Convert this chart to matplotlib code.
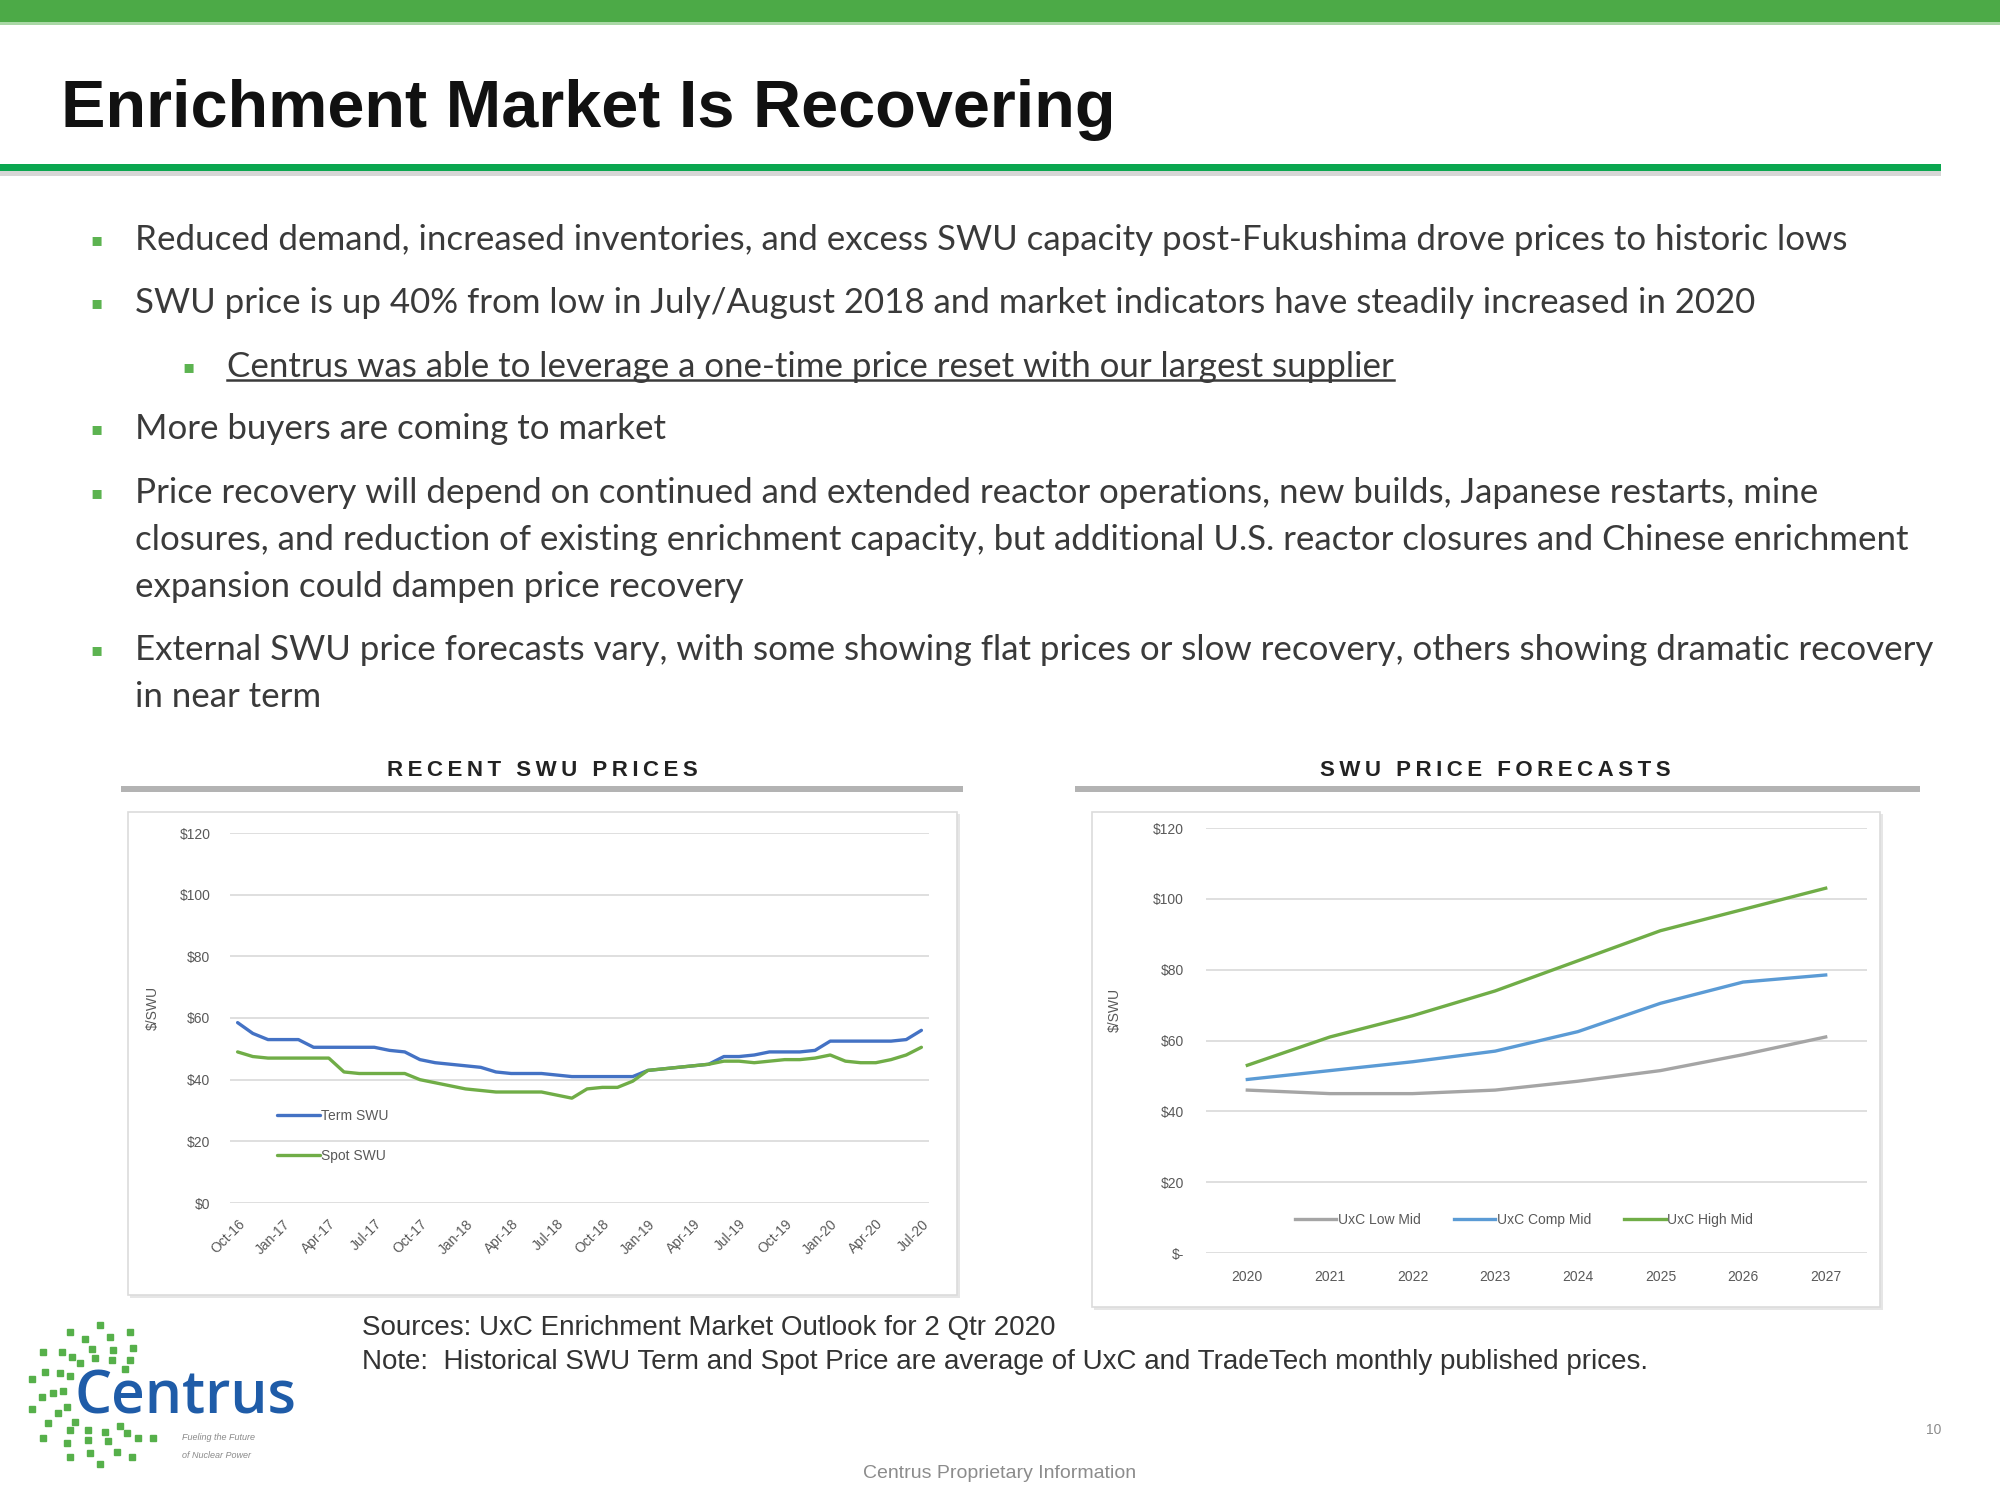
import matplotlib
matplotlib.use("Agg")
import matplotlib.pyplot as plt
from matplotlib.patches import Rectangle
from matplotlib.lines import Line2D

W, H = 2000, 1500

# recent SWU prices, monthly from Oct-16 to Jul-20 ($/SWU)
term_swu = [58.5, 55, 53, 53, 53, 50.5, 50.5, 50.5, 50.5, 50.5, 49.5, 49,
            46.5, 45.5, 45, 44.5, 44, 42.5, 42, 42, 42, 41.5, 41, 41, 41, 41, 41,
            43, 43.5, 44, 44.5, 45, 47.5, 47.5, 48, 49, 49, 49, 49.5,
            52.5, 52.5, 52.5, 52.5, 52.5, 53, 56]
spot_swu = [49, 47.5, 47, 47, 47, 47, 47, 42.5, 42, 42, 42, 42,
            40, 39, 38, 37, 36.5, 36, 36, 36, 36, 35, 34, 37, 37.5, 37.5, 39.5,
            43, 43.5, 44, 44.5, 45, 46, 46, 45.5, 46, 46.5, 46.5, 47,
            48, 46, 45.5, 45.5, 46.5, 48, 50.5]
recent_ticks = ['Oct-16', 'Jan-17', 'Apr-17', 'Jul-17', 'Oct-17', 'Jan-18', 'Apr-18',
                'Jul-18', 'Oct-18', 'Jan-19', 'Apr-19', 'Jul-19', 'Oct-19', 'Jan-20',
                'Apr-20', 'Jul-20']

# SWU price forecasts ($/SWU)
years = ['2020', '2021', '2022', '2023', '2024', '2025', '2026', '2027']
uxc_low = [46, 45, 45, 46, 48.5, 51.5, 56, 61]
uxc_comp = [49, 51.5, 54, 57, 62.5, 70.5, 76.5, 78.5]
uxc_high = [53, 61, 67, 74, 82.5, 91, 97, 103]

bullets = [
    (0, ["Reduced demand, increased inventories, and excess SWU capacity post-Fukushima drove prices to historic lows"]),
    (0, ["SWU price is up 40% from low in July/August 2018 and market indicators have steadily increased in 2020"]),
    (1, ["Centrus was able to leverage a one-time price reset with our largest supplier"]),
    (0, ["More buyers are coming to market"]),
    (0, ["Price recovery will depend on continued and extended reactor operations, new builds, Japanese restarts, mine",
         "closures, and reduction of existing enrichment capacity, but additional U.S. reactor closures and Chinese enrichment",
         "expansion could dampen price recovery"]),
    (0, ["External SWU price forecasts vary, with some showing flat prices or slow recovery, others showing dramatic recovery",
         "in near term"]),
]
bullet_y = [240, 303, 367, 429, 493, 650]

fig = plt.figure(figsize=(20, 15), dpi=100)
fig.patch.set_facecolor('white')
renderer = fig.canvas.get_renderer()


def fx(x):
    return x / W


def fy(y):
    return 1 - y / H


def rect(x0, y0, x1, y1, fc, ec='none', lw=0, z=0.5):
    r = Rectangle((fx(x0), fy(y1)), (x1 - x0) / W, (y1 - y0) / H, transform=fig.transFigure,
                  facecolor=fc, edgecolor=ec, linewidth=lw, zorder=z)
    fig.add_artist(r)
    return r


def fit(t, width):
    # scale the font so the text is width px wide
    w = t.get_window_extent(renderer).width
    t.set_fontsize(t.get_fontsize() * width / w)


# header bars
rect(0, 0, 2000, 22, '#4caa47')
rect(0, 22, 2000, 25, '#a9d8a5')
rect(0, 164, 1941, 171, '#0aa64f')
rect(0, 171, 1941, 176, '#d6d6d6')

title = fig.text(fx(61), fy(110), 'Enrichment Market Is Recovering', fontsize=44, fontweight='bold',
                 family='Liberation Sans', color='#111111', va='center', ha='left')
fit(title, 1056)

# bullets
txt_color = '#3a3a3a'
first = None
for (lvl, lines), y in zip(bullets, bullet_y):
    bx = 96 if lvl == 0 else 189
    tx = 135 if lvl == 0 else 227
    fig.text(fx(bx), fy(y), '\u25aa', fontsize=13, family='DejaVu Sans', color='#5cb350',
             va='center', ha='center')
    for k, line in enumerate(lines):
        t = fig.text(fx(tx), fy(y + k * 47), line, fontsize=24, family=['Lato', 'DejaVu Sans'],
                     color=txt_color, va='center', ha='left')
        if first is None:
            first = t
            fit(t, 1711)
        else:
            t.set_fontsize(first.get_fontsize())
        if lvl == 1:
            bb = t.get_window_extent(renderer)
            fig.add_artist(Line2D([bb.x0 / W, bb.x1 / W], [fy(380), fy(380)], transform=fig.transFigure,
                                  color=txt_color, lw=1.8))

# section headers
for label, cx, x0, x1 in [('RECENT SWU PRICES', 542, 121, 963), ('SWU PRICE FORECASTS', 1495, 1075, 1920)]:
    h = fig.text(fx(cx), fy(771), '\u2009'.join(label), fontsize=16, fontweight='bold',
                 family=['Liberation Sans', 'DejaVu Sans'], color='#222222', ha='center', va='center')
    rect(x0, 786, x1, 792, '#b3b3b3')

# chart boxes
for x0, y0, x1, y1 in [(128, 812, 957, 1295), (1092, 812, 1880, 1307)]:
    rect(x0 + 2, y0 + 2, x1 + 3, y1 + 3, '#e6e6e6', z=0.3)
    rect(x0, y0, x1, y1, 'white', ec='#dcdcdc', lw=1.2, z=0.4)

chart_font = 'Liberation Sans'
tick_color = '#595959'
grid_color = '#d9d9d9'


def style(ax):
    for s in ax.spines.values():
        s.set_visible(False)
    ax.set_ylim(0, 120)
    ax.set_yticks(range(0, 121, 20))
    ax.grid(axis='y', color=grid_color, lw=1.2)
    ax.set_axisbelow(True)
    ax.tick_params(length=0, colors=tick_color, labelsize=10)
    for lab in ax.get_xticklabels() + ax.get_yticklabels():
        lab.set_family(chart_font)
    ax.patch.set_visible(False)
    ax.set_zorder(2)


# left chart: recent prices
ax1 = fig.add_axes([fx(230), fy(1203), 699 / W, 370 / H])
xs = list(range(len(term_swu)))
ax1.plot(xs, term_swu, color='#4472c4', lw=2.4, label='Term SWU', solid_capstyle='round')
ax1.plot(xs, spot_swu, color='#70ad47', lw=2.4, label='Spot SWU', solid_capstyle='round')
ax1.set_xlim(-0.5, len(term_swu) - 0.5)
ax1.set_xticks(xs[::3])
ax1.set_xticklabels(recent_ticks, rotation=45, ha='right', rotation_mode='anchor')
ax1.set_yticklabels(['$%d' % v for v in range(0, 121, 20)])
style(ax1)
ax1.tick_params(axis='y', pad=14)
ax1.tick_params(axis='x', pad=10)
leg1 = ax1.legend(loc='upper left', bbox_to_anchor=(0.067, 0.255), frameon=False,
                  handlelength=3.1, handletextpad=0.1, labelspacing=1.9, borderpad=0, borderaxespad=0,
                  prop={'family': chart_font, 'size': 10})
for t in leg1.get_texts():
    t.set_color(tick_color)
fig.text(fx(153), fy(1008), '$/SWU', rotation=90, fontsize=10, family=chart_font, color=tick_color,
         ha='center', va='center')

# right chart: forecasts
ax2 = fig.add_axes([fx(1206), fy(1253), 661 / W, 425 / H])
xr = list(range(len(years)))
ax2.plot(xr, uxc_low, color='#a5a5a5', lw=2.4, label='UxC Low Mid')
ax2.plot(xr, uxc_comp, color='#5b9bd5', lw=2.4, label='UxC Comp Mid')
ax2.plot(xr, uxc_high, color='#70ad47', lw=2.4, label='UxC High Mid')
ax2.set_xlim(-0.5, len(years) - 0.5)
ax2.set_xticks(xr)
ax2.set_xticklabels(years)
ax2.set_yticklabels(['$-'] + ['$%d' % v for v in range(20, 121, 20)])
style(ax2)
ax2.tick_params(axis='y', pad=16)
ax2.tick_params(axis='x', pad=12)
leg2 = ax2.legend(loc='center', bbox_to_anchor=(0.481, 0.078), ncol=3, frameon=False,
                  handlelength=3.0, handletextpad=0.1, columnspacing=2.4, borderpad=0,
                  prop={'family': chart_font, 'size': 10})
for t in leg2.get_texts():
    t.set_color(tick_color)
fig.text(fx(1115), fy(1010), '$/SWU', rotation=90, fontsize=10, family=chart_font, color=tick_color,
         ha='center', va='center')

# footnotes
src = fig.text(fx(362), fy(1328), 'Sources: UxC Enrichment Market Outlook for 2 Qtr 2020', fontsize=17,
               family='Liberation Sans', color='#333333', va='center', ha='left')
note = fig.text(fx(362), fy(1362),
                'Note:  Historical SWU Term and Spot Price are average of UxC and TradeTech monthly published prices.',
                fontsize=17, family='Liberation Sans', color='#333333', va='center', ha='left')
fit(note, 1291)
src.set_fontsize(note.get_fontsize())

fig.text(fx(1000), fy(1473), 'Centrus Proprietary Information', fontsize=14, family='Liberation Sans',
         color='#8c8c8c', ha='center', va='center')
fig.text(fx(1934), fy(1430), '10', fontsize=10, family='Liberation Sans', color='#8c8c8c',
         ha='center', va='center')

# Centrus logo
logo_dots = [(100, 25), (70, 32), (130, 32), (85, 39), (110, 37), (43, 52), (62, 52), (133, 48),
             (92, 49), (113, 50), (72, 57), (80, 63), (95, 58), (112, 60), (130, 60), (125, 69),
             (45, 72), (60, 73), (70, 76), (32, 79), (42, 97), (53, 93), (63, 91), (32, 109),
             (58, 113), (67, 107), (48, 123), (75, 122), (70, 130), (88, 130), (105, 132),
             (120, 126), (127, 133), (43, 138), (67, 143), (88, 140), (108, 141), (138, 138),
             (153, 138), (90, 153), (117, 152), (70, 157), (132, 157), (100, 164)]
for dx, dy in logo_dots:
    fig.add_artist(Line2D([fx(dx)], [fy(1300 + dy)], transform=fig.transFigure, marker='s',
                          markersize=4.2, color='#56b04a', lw=0))
logo = fig.text(fx(74), fy(1398), 'Centrus', fontsize=46, fontweight='semibold', family='Open Sans',
                color='#1f5ca8', ha='left', va='center')
fit(logo, 222)
fig.text(fx(182), fy(1437), 'Fueling the Future', fontsize=6.5, style='italic', family='Liberation Sans',
         color='#8a8a8a', ha='left', va='center')
fig.text(fx(182), fy(1455), 'of Nuclear Power', fontsize=6.5, style='italic', family='Liberation Sans',
         color='#8a8a8a', ha='left', va='center')

fig.savefig('out.png', dpi=100, facecolor='white')
